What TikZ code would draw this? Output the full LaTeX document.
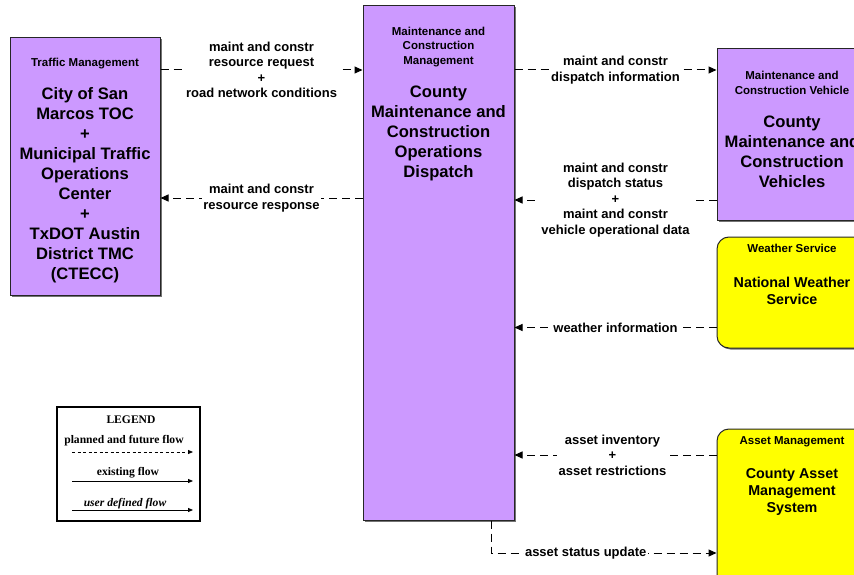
\documentclass[tikz,border=0pt]{standalone}
\usepackage{fontspec}
\setmainfont{Liberation Sans}
\newfontfamily\legfont{Liberation Serif}
\usetikzlibrary{arrows.meta,shadows}
\definecolor{mcpurple}{HTML}{CC99FF}
\definecolor{mcyellow}{HTML}{FFFF00}
\begin{document}
\begin{tikzpicture}[x=1pt,y=-1pt,
  pbox/.style={draw=black!85, line width=1pt, fill=mcpurple, inner sep=0pt,
    drop shadow={shadow xshift=1.5pt, shadow yshift=-1.5pt, fill=black!55, opacity=1}},
  ybox/.style={pbox, fill=mcyellow, rounded corners=12pt},
  hdr/.style={align=center, inner sep=0pt, font=\fontsize{11.5}{14.5}\selectfont\bfseries},
  big/.style={align=center, inner sep=0pt, font=\fontsize{16.6}{20}\selectfont\bfseries},
  ybig/.style={align=center, inner sep=0pt, font=\fontsize{14.3}{17}\selectfont\bfseries},
  lbl/.style={fill=white, inner sep=1.5pt, align=center, font=\fontsize{13}{15.5}\selectfont\bfseries},
  flow/.style={line width=1pt, dash pattern=on 8pt off 5pt, -{Triangle[length=8pt,width=7pt]}},
  legt/.style={inner sep=0pt, font=\legfont\fontsize{11.6}{13}\selectfont\bfseries},
  legline/.style={line width=0.8pt, -{Triangle[length=5pt,width=4pt]}}
]
\useasboundingbox (0,0) rectangle (854,575);
\clip (0,0) rectangle (854,575);
\fill[white] (0,0) rectangle (854,575);

% boxes
\node[pbox, minimum width=150pt, minimum height=257pt] (L) at (85,166.5) {};
\node[pbox, minimum width=151pt, minimum height=514pt] (C) at (438.5,263) {};
\node[pbox, minimum width=150pt, minimum height=171pt] (V) at (792,134.5) {};
\node[ybox, minimum width=150pt, minimum height=111pt] (W) at (792,292.5) {};
\node[ybox, minimum width=150pt, minimum height=171pt] (A) at (792,514.5) {};

% box texts
\node[hdr] (Lh) at (85,64) {Traffic Management};
\node[big] (Lt) at (85,185.5) {City of San\\Marcos TOC\\+\\Municipal Traffic\\Operations\\Center\\+\\TxDOT Austin\\District TMC\\(CTECC)};
\node[hdr] (Ch) at (438.5,47) {Maintenance and\\Construction\\Management};
\node[big] (Ct) at (438.5,133.5) {County\\Maintenance and\\Construction\\Operations\\Dispatch};
\node[hdr] (Vh) at (792,83) {Maintenance and\\Construction Vehicle};
\node[big] (Vt) at (792,151.5) {County\\Maintenance and\\Construction\\Vehicles};
\node[hdr] (Wh) at (792,248.5) {Weather Service};
\node[ybig] (Wt) at (792,290.5) {National Weather\\Service};
\node[hdr] (Ah) at (792,441.5) {Asset Management};
\node[ybig] (At) at (792,491.5) {County Asset\\Management\\System};

% flow heights
\coordinate (y1) at (0,70);
\coordinate (y2) at (0,198);
\coordinate (y3) at (0,70);
\coordinate (y4) at (0,200);
\coordinate (y5) at (0,327.5);
\coordinate (y6) at (0,455);
\coordinate (y7) at (0,553);
\coordinate (x7) at (491,0);

% flows
\draw[flow] (L.east |- y1) -- node[lbl] {maint and constr\\resource request\\+\\road network conditions} (C.west |- y1);
\draw[flow] (C.west |- y2) -- node[lbl] {maint and constr\\resource response} (L.east |- y2);
\draw[flow] (C.east |- y3) -- node[lbl] {maint and constr\\dispatch information} (V.west |- y3);
\draw[flow] (V.west |- y4) -- node[lbl] {maint and constr\\dispatch status\\+\\maint and constr\\vehicle operational data} (C.east |- y4);
\draw[flow] (W.west |- y5) -- node[lbl] {weather information} (C.east |- y5);
\draw[flow] (A.west |- y6) -- node[lbl, xshift=-3pt] {asset inventory\\+\\asset restrictions} (C.east |- y6);
\draw[flow] (C.south -| x7) |- node[lbl, pos=0.71] {asset status update} (A.west |- y7);

% legend
\node[draw, line width=1.2pt, minimum width=143pt, minimum height=114pt, inner sep=0pt] (G) at (128.5,464) {};
\node[legt] (G1) at (131,420) {LEGEND};
\node[legt] (G2) at (124,441) {planned and future flow};
\node[legt] (G3) at (128,473) {existing flow};
\node[legt, font=\legfont\fontsize{11.6}{13}\selectfont\bfseries\itshape] (G4) at (125,504) {user defined flow};
\coordinate (la1) at (72,452);
\coordinate (lb1) at (193,452);
\coordinate (la2) at (72,481);
\coordinate (lb2) at (193,481);
\coordinate (la3) at (72,510);
\coordinate (lb3) at (193,510);
\draw[legline, dash pattern=on 3pt off 2.5pt] (la1) -- (lb1);
\draw[legline] (la2) -- (lb2);
\draw[legline] (la3) -- (lb3);
\end{tikzpicture}
\end{document}
